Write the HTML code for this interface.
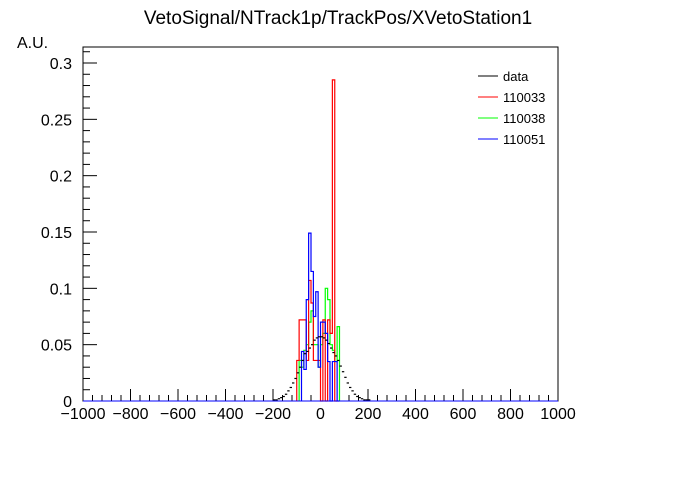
<!DOCTYPE html>
<html><head><meta charset="utf-8"><style>
body{margin:0;background:#fff;}
svg text{font-family:"Liberation Sans",sans-serif;}
</style></head><body>
<svg id="chart" width="696" height="472" xmlns="http://www.w3.org/2000/svg">
<text x="338" y="24" font-size="19" text-anchor="middle">VetoSignal/NTrack1p/TrackPos/XVetoStation1</text>
<text x="17" y="48" font-size="16">A.U.</text>
<g id="axes"></g>
<g id="series"></g>
<g>
<line x1="478" y1="76" x2="498" y2="76" stroke="#000"/><text x="503" y="81" font-size="13">data</text>
<line x1="478" y1="97" x2="498" y2="97" stroke="#f00"/><text x="503" y="102" font-size="13">110033</text>
<line x1="478" y1="118" x2="498" y2="118" stroke="#0f0"/><text x="503" y="123" font-size="13">110038</text>
<line x1="478" y1="139" x2="498" y2="139" stroke="#00f"/><text x="503" y="144" font-size="13">110051</text>
</g>
</svg>
<script>
const binWidth = 10;
const redEdges = [-100,-90,-80,-70,-60,-50,-40,-30,-20,-10,0,10,20,30,40,50,60];
const redValues = [0.036,0.072,0.072,0.072,0.036,0.107,0.087,0.036,0.036,0.036,0,0.072,0,0.072,0.06,0.285,0];
const greenEdges = [-90,-80,-70,-60,-50,-40,-30,-20,-10,0,10,20,30,40,50,60,70];
const greenValues = [0.036,0.03,0.045,0.05,0.07,0.08,0.05,0.05,0.03,0.05,0.06,0.1,0.09,0.05,0.045,0.035,0.066];
const blueEdges = [-80,-70,-60,-50,-40,-30,-20,-10,0,10,20,30,40,50,60,70];
const blueValues = [0.044,0.028,0.09,0.149,0.115,0.075,0.097,0.03,0.07,0.07,0.06,0.035,0,0.035,0.035,0];
const dataStart = -200;
const dataValues = [0.001,0.001,0.002,0.003,0.004,0.006,0.009,0.012,0.016,0.020,0.025,0.030,0.036,0.042,0.044,0.047,0.050,0.054,0.056,0.057,0.057,0.056,0.054,0.051,0.047,0.043,0.040,0.036,0.031,0.026,0.021,0.016,0.012,0.009,0.006,0.004,0.003,0.002,0.001,0.001,0.001];
const xTicks = [-1000,-800,-600,-400,-200,0,200,400,600,800,1000];
const yTicks = [0,0.05,0.1,0.15,0.2,0.25,0.3];
const yTickLabels = ["0","0.05","0.1","0.15","0.2","0.25","0.3"];

const L=83,R=558,T=47,B=401;
const xs = v => L + (v+1000)/2000*(R-L);
const ys = v => B - v/0.3*(B-63);
const NS="http://www.w3.org/2000/svg";
function mk(tag, attrs, parent){const e=document.createElementNS(NS,tag);for(const k in attrs)e.setAttribute(k,attrs[k]);parent.appendChild(e);return e;}
const ax=document.getElementById('axes'), sg=document.getElementById('series');
const frame=mk('rect',{x:L,y:T,width:R-L,height:B-T,fill:'none',stroke:'#000','stroke-width':1},ax);


for(let v=-1000; v<=1000; v+=40){const big=(v%200===0);mk('line',{x1:xs(v),x2:xs(v),y1:B,y2:B-(big?12:6),stroke:'#000'},ax);}
for(let i=0;i<=31;i++){const v=i*0.01;if(ys(v)<T)break;const big=(i%5===0);mk('line',{x1:L,x2:L+(big?14:7),y1:ys(v),y2:ys(v),stroke:'#000'},ax);}
xTicks.forEach(v=>{const t=mk('text',{x:xs(v),y:B+18,'font-size':16,'text-anchor':'middle'},ax);t.textContent=(v<0?'\u2212'+(-v):v);

});
yTicks.forEach((v,i)=>{const t=mk('text',{x:72,y:ys(v)+6,'font-size':16,'text-anchor':'end'},ax);t.textContent=yTickLabels[i];

});
function hist(edges, vals, color, name){
  let d='M'+xs(edges[0])+','+ys(0);
  edges.forEach((e,i)=>{d+=' L'+xs(e)+','+ys(vals[i])+' L'+xs(e+binWidth)+','+ys(vals[i]);});
  d+=' L'+xs(edges[edges.length-1]+binWidth)+','+ys(0);
  const p=mk('path',{d:d,fill:'none',stroke:color,'stroke-width':1.2},sg);
  
  
}
hist(greenEdges,greenValues,'#0f0','series-110038');
hist(redEdges,redValues,'#f00','series-110033');
hist(blueEdges,blueValues,'#00f','series-110051');
dataValues.forEach((v,i)=>{const x0=dataStart+i*binWidth;const l=mk('line',{x1:xs(x0),x2:xs(x0+binWidth),y1:ys(v),y2:ys(v),stroke:'#000','stroke-width':1.2},sg);

});
const base=mk('line',{x1:L,x2:R,y1:B,y2:B,stroke:'#00f'},sg);


</script>
</body></html>
